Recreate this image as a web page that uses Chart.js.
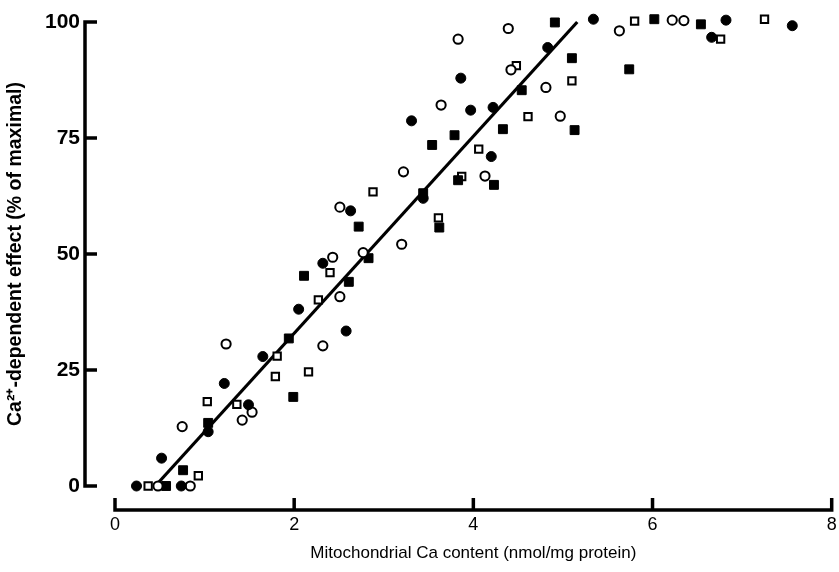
<!DOCTYPE html>
<html><head><meta charset="utf-8">
<script src="https://cdn.jsdelivr.net/npm/chart.js@4.4.1/dist/chart.umd.min.js"></script>
<style>html,body{margin:0;padding:0;background:#fff}#wrap{width:839px;height:572px;position:relative}</style>
</head><body><div id="wrap"><canvas id="c"></canvas></div>
<script>
// Axis ticks
const xTicks = [0, 2, 4, 6, 8];
const yTicks = [0, 25, 50, 75, 100];

// Series (x = mitochondrial Ca content, y = % of maximal effect)
const filledCircles = [
  [0.24,0],[0.74,0],[0.52,6.0],[1.04,11.7],[1.22,22.1],[1.49,17.5],[1.65,27.9],
  [2.05,38.1],[2.58,33.4],[2.32,48.0],[2.63,59.3],[3.44,62.0],[3.31,78.7],[3.86,87.9],
  [3.97,81.0],[4.22,81.6],[4.20,71.0],[4.83,94.5],[5.34,100.6],[6.66,96.7],[6.82,100.4],[7.56,99.2]
];
const openCircles = [
  [0.48,0],[0.84,0],[0.75,12.8],[1.24,30.6],[1.42,14.2],[1.53,15.9],[2.32,30.2],
  [2.51,40.8],[2.43,49.3],[2.77,50.3],[2.51,60.1],[3.20,52.1],[3.22,67.7],[3.64,82.1],
  [3.83,96.3],[4.39,98.6],[4.42,89.7],[4.13,66.8],[4.81,85.9],[4.97,79.7],[5.63,98.1],
  [6.22,100.4],[6.35,100.3]
];
const filledSquares = [
  [0.57,0],[0.76,3.4],[1.04,13.6],[1.99,19.2],[1.94,31.8],[2.11,45.3],[2.61,44.0],
  [2.72,55.9],[2.83,49.1],[3.44,63.1],[3.62,55.7],[3.54,73.5],[3.79,75.6],[3.83,65.9],
  [4.23,64.9],[4.33,76.9],[4.54,85.3],[4.91,99.9],[5.10,92.2],[5.13,76.7],[5.74,89.8],
  [6.02,100.6],[6.54,99.5]
];
const openSquares = [
  [0.37,0],[0.93,2.2],[1.03,18.2],[1.36,17.6],[1.79,23.6],[1.81,28.0],[2.16,24.6],
  [2.27,40.1],[2.40,46.0],[2.88,63.4],[3.61,57.8],[3.87,66.7],[4.06,72.6],[4.48,90.6],
  [4.61,79.6],[5.10,87.3],[5.80,100.2],[6.76,96.3],[7.25,100.6]
];
const fitLine = [[0.45,0],[5.16,100]];

const toPts = a => a.map(p => ({x: p[0], y: p[1]}));

const axesPlugin = {
  id: 'detachedAxes',
  afterDatasetsDraw(chart) {
    const {ctx, chartArea, scales: {x, y}} = chart;
    ctx.save();
    ctx.strokeStyle = '#000';
    ctx.lineWidth = 3.5;
    ctx.lineCap = 'butt';
    const ax = chartArea.left - 30;
    const ay = chartArea.bottom + 24;
    // y axis
    ctx.beginPath();
    ctx.moveTo(ax, y.getPixelForValue(yTicks[0]) + 1.75);
    ctx.lineTo(ax, y.getPixelForValue(yTicks[yTicks.length-1]) - 1.75);
    yTicks.forEach(v => {
      const py = y.getPixelForValue(v);
      ctx.moveTo(ax, py);
      ctx.lineTo(ax + 12, py);
    });
    ctx.stroke();
    // x axis
    ctx.beginPath();
    ctx.moveTo(x.getPixelForValue(xTicks[0]) - 1.75, ay);
    ctx.lineTo(x.getPixelForValue(xTicks[xTicks.length-1]) + 1.75, ay);
    xTicks.forEach(v => {
      const px = x.getPixelForValue(v);
      ctx.moveTo(px, ay);
      ctx.lineTo(px, ay - 12);
    });
    ctx.stroke();
    ctx.restore();
  }
};

new Chart(document.getElementById('c'), {
  type: 'scatter',
  data: {
    datasets: [
      {label:'fit', type:'line', data: toPts(fitLine), borderColor:'#000', borderWidth:3.2, pointRadius:0, fill:false, order:5, clip:false},
      {label:'filled circles', data: toPts(filledCircles), pointStyle:'circle', pointRadius:5, backgroundColor:'#000', borderColor:'#000', borderWidth:1, order:1, clip:false},
      {label:'open circles', data: toPts(openCircles), pointStyle:'circle', pointRadius:4.6, backgroundColor:'#fff', borderColor:'#000', borderWidth:2, order:1, clip:false},
      {label:'filled squares', data: toPts(filledSquares), pointStyle:'rect', pointRadius:6.3, backgroundColor:'#000', borderColor:'#000', borderWidth:1, order:1, clip:false},
      {label:'open squares', data: toPts(openSquares), pointStyle:'rect', pointRadius:5.2, backgroundColor:'#fff', borderColor:'#000', borderWidth:2, order:1, clip:false}
    ]
  },
  options: {
    responsive: true,
    maintainAspectRatio: false,
    animation: false,
    devicePixelRatio: 1,
    layout: {padding: {top: 22, right: 5, bottom: 0, left: 0}},
    plugins: {legend: {display:false}, tooltip: {enabled:false}},
    elements: {point: {hoverRadius: 0}},
    scales: {
      x: {
        type: 'linear', min: 0, max: 8,
        grid: {display:false, drawTicks:false}, border: {display:false},
        afterBuildTicks: s => { s.ticks = xTicks.map(v => ({value: v})); },
        afterFit: s => { s.height = 86; s.paddingLeft = 0; s.paddingRight = 0; },
        ticks: {color:'#000', font:{family:'Liberation Sans, Arial, sans-serif', size:18}, padding: 28, maxRotation:0},
        title: {display:true, text:'Mitochondrial Ca content (nmol/mg protein)', color:'#000',
                font:{family:'Liberation Sans, Arial, sans-serif', size:17}, padding:{top:0, bottom:8}}
      },
      y: {
        type: 'linear', min: 0, max: 100,
        grid: {display:false, drawTicks:false}, border: {display:false},
        afterBuildTicks: s => { s.ticks = yTicks.map(v => ({value: v})); },
        afterFit: s => { s.width = 115; s.paddingTop = 0; s.paddingBottom = 0; },
        ticks: {color:'#000', font:{family:'Liberation Sans, Arial, sans-serif', size:21, weight:'bold'}, padding: 35},
        title: {display:true, text:'Ca\u00B2\u207A-dependent effect (% of maximal)', color:'#000',
                font:{family:'Liberation Sans, Arial, sans-serif', size:19.5, weight:'bold'}, padding:{top:4, bottom:0}}
      }
    }
  },
  plugins: [axesPlugin]
});
</script>
</body></html>
